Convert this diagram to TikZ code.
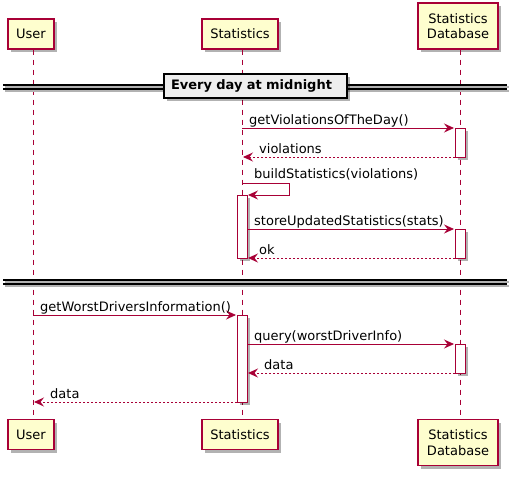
\documentclass[tikz,border=0pt]{standalone}
\usepackage{fontspec}
\setmainfont{DejaVu Sans}
\usetikzlibrary{arrows.meta,shadows}
\definecolor{umlred}{HTML}{A80036}
\definecolor{umlfill}{HTML}{FEFECE}
\definecolor{divgray}{HTML}{EEEEEE}
\begin{document}
\begin{tikzpicture}[x=1pt,y=-1pt,font=\fontsize{13}{15.5}\selectfont,
  shade/.style={drop shadow={shadow xshift=3pt,shadow yshift=-3pt,fill=black,opacity=0.3}},
  part/.style={draw=umlred,fill=umlfill,line width=1.2pt,inner sep=0pt,align=center,minimum height=30pt,shade},
  life/.style={umlred,line width=0.8pt,dash pattern=on 5pt off 5pt},
  act/.style={draw=umlred,fill=white,line width=0.9pt,shade},
  msg/.style={umlred,line width=0.9pt,-{Stealth[length=10pt,width=9pt,inset=3.5pt]}},
  ret/.style={msg,dash pattern=on 2pt off 2pt},
  lbl/.style={anchor=base west,inner sep=0pt}]
  \useasboundingbox (0,0) rectangle (518,476);

  % participants
  \node[part,minimum width=46pt] (u1) at (31,34) {User};
  \node[part,minimum width=76pt] (s1) at (240,34) {Statistics};
  \node[part,minimum width=80pt,minimum height=46pt] (d1) at (458,26) {Statistics\\Database};
  \node[part,minimum width=46pt] (u2) at (31,434.5) {User};
  \node[part,minimum width=76pt] (s2) at (240,434.5) {Statistics};
  \node[part,minimum width=80pt,minimum height=46pt] (d2) at (458,442.5) {Statistics\\Database};

  % lifelines
  \draw[life] ([xshift=2pt]u1.south) -- ([xshift=2pt]u2.north);
  \draw[life] ([xshift=2pt]s1.south) -- ([xshift=2pt]s2.north);
  \draw[life] ([xshift=2pt]d1.south) -- ([xshift=2pt]d2.north);

  % first divider
  \draw[black!30,line width=1.2pt] (5,87) -- (509,87) (5,91) -- (509,91);
  \draw[line width=1.2pt] (3,85) -- (507,85) (3,89) -- (507,89);
  \node[draw,line width=1.6pt,fill=divgray,shade,minimum height=24pt,text width=169pt,
        inner xsep=7pt,align=left,font=\fontsize{13}{15.5}\selectfont\bfseries] (day) at (255.5,86)
        {Every day at midnight};

  % activations
  \draw[act] (455,128) rectangle (465,157);
  \draw[act] (237,195) rectangle (247,258);
  \draw[act] (455,229) rectangle (465,258);
  \draw[act] (237,315) rectangle (247,402);
  \draw[act] (455,344) rectangle (465,373);

  % messages
  \coordinate (a1) at (242,128); \coordinate (b1) at (454,128);
  \draw[msg] (a1) -- (b1);
  \node[lbl] (l1) at (249,124) {getViolationsOfTheDay()};
  \coordinate (a2) at (455,157); \coordinate (b2) at (243,157);
  \draw[ret] (a2) -- (b2);
  \node[lbl] (l2) at (259,153) {violations};
  \coordinate (a3) at (242,183); \coordinate (b3) at (248,195);
  \draw[msg] (a3) -- (289,183) -- (289,195) -- (b3);
  \node[lbl] (l3) at (254,178) {buildStatistics(violations)};
  \coordinate (a4) at (248,229); \coordinate (b4) at (454,229);
  \draw[msg] (a4) -- (b4);
  \node[lbl] (l4) at (254,225) {storeUpdatedStatistics(stats)};
  \coordinate (a5) at (455,258); \coordinate (b5) at (248,258);
  \draw[ret] (a5) -- (b5);
  \node[lbl] (l5) at (259,254) {ok};

  % second divider
  \draw[black!30,line width=1.2pt] (5,282) -- (509,282) (5,286) -- (509,286);
  \draw[line width=1.2pt] (3,280) -- (507,280) (3,284) -- (507,284);

  \coordinate (a6) at (33,315); \coordinate (b6) at (236,315);
  \draw[msg] (a6) -- (b6);
  \node[lbl] (l6) at (40,311) {getWorstDriversInformation()};
  \coordinate (a7) at (248,344); \coordinate (b7) at (454,344);
  \draw[msg] (a7) -- (b7);
  \node[lbl] (l7) at (254,340) {query(worstDriverInfo)};
  \coordinate (a8) at (455,373); \coordinate (b8) at (248,373);
  \draw[ret] (a8) -- (b8);
  \node[lbl] (l8) at (264,369) {data};
  \coordinate (a9) at (237,402); \coordinate (b9) at (34,402);
  \draw[ret] (a9) -- (b9);
  \node[lbl] (l9) at (50,398) {data};
\end{tikzpicture}
\end{document}
